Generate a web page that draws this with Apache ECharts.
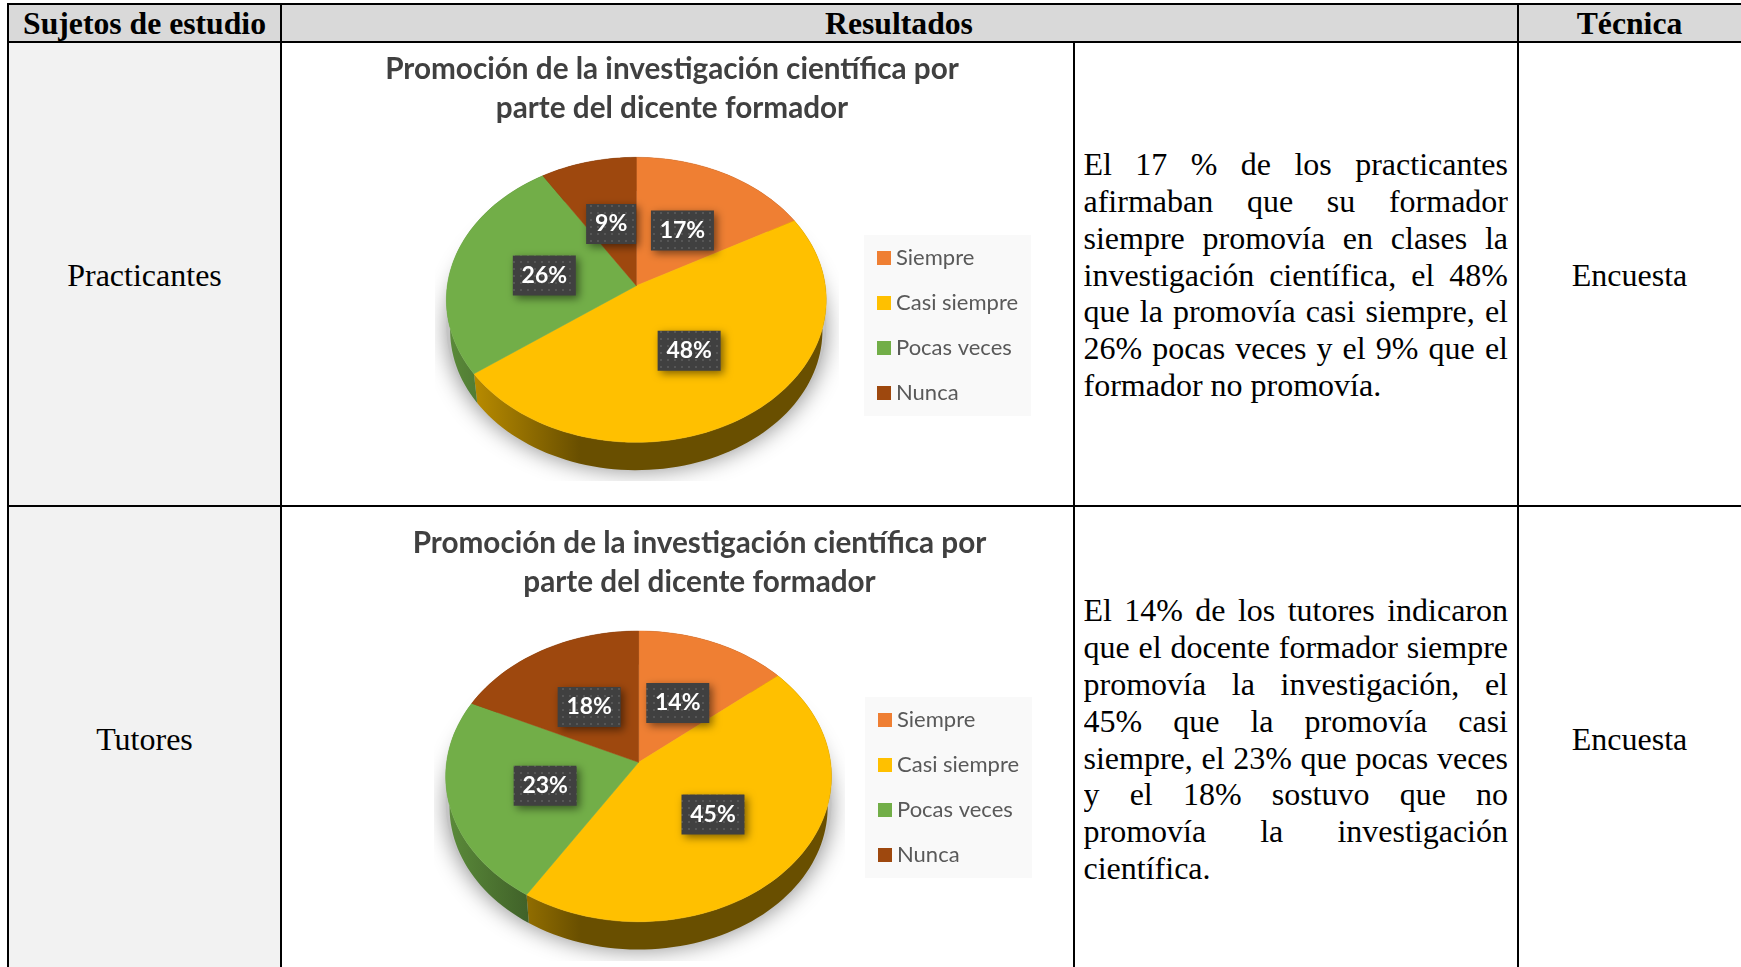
<!DOCTYPE html>
<html lang="es">
<head>
<meta charset="utf-8">
<title>Promoción de la investigación científica</title>
<script src="https://cdn.jsdelivr.net/npm/echarts@6/dist/echarts.min.js"></script>
<style>
html,body{margin:0;padding:0;background:#fff;overflow:hidden;width:1741px;height:967px}
#page{position:relative;width:1741px;height:967px;overflow:hidden;font-family:"Liberation Serif","Times New Roman",serif;color:#000}
.fill,.rule,.cell,.line{position:absolute}
.rule{background:#000}
.cell{transform:translate(-50%,-50%);white-space:nowrap;font-size:32px;line-height:36px}
.cell.head{font-weight:bold;font-size:31.7px}
.line{left:1083.5px;width:424.5px;font-size:32px;line-height:37px;height:37px;transform:translateY(-50%);text-align:justify;text-align-last:justify;overflow:hidden}
.line.last{text-align-last:left}
#chart{position:absolute;left:0;top:0;width:1741px;height:967px}
</style>
</head>
<body>
<div id="page"><div id="chart"></div></div>
<script>
// ---- chart data
const categories = ['Siempre', 'Casi siempre', 'Pocas veces', 'Nunca'];
const practicantes = [17, 48, 26, 9];
const tutores = [14, 45, 23, 18];
const chartTitle = 'Promoción de la investigación científica por';
const chartTitlePractica = 'parte del dicente formador';
const colors = ['#EF7F33', '#FFC000', '#72AE48', '#9E480E'];

// ---- table text, one entry per printed line
const headers = ['Sujetos de estudio', 'Resultados', 'Técnica'];
const subjects = ['Practicantes', 'Tutores'];
const technique = 'Encuesta';
const textPracticantes = [
  'El 17 % de los practicantes',
  'afirmaban que su formador',
  'siempre promovía en clases la',
  'investigación científica, el 48%',
  'que la promovía casi siempre, el',
  '26% pocas veces y el 9% que el',
  'formador no promovía.'
];
const textTutores = [
  'El 14% de los tutores indicaron',
  'que el docente formador siempre',
  'promovía la investigación, el',
  '45% que la promovía casi',
  'siempre, el 23% que pocas veces',
  'y el 18% sostuvo que no',
  'promovía la investigación',
  'científica.'
];

// ---- HTML table (frame and text)
const page = document.getElementById('page');
function box(cls, css, text) {
  const d = document.createElement('div');
  d.className = cls;
  Object.assign(d.style, css);
  if (text) d.textContent = text;
  page.insertBefore(d, document.getElementById('chart'));
  return d;
}
box('fill', {left:'8px', top:'4px', width:'1733px', height:'38px', background:'#D9D9D9'});
box('fill', {left:'8px', top:'42px', width:'273px', height:'925px', background:'#F2F2F2'});
[[3],[41],[505]].forEach(([y]) => box('rule', {left:'7px', top:y+'px', width:'1734px', height:'2px'}));
box('rule', {left:'7px', top:'3px', width:'2px', height:'964px'});
box('rule', {left:'280px', top:'3px', width:'2px', height:'964px'});
box('rule', {left:'1073px', top:'42px', width:'2px', height:'925px'});
box('rule', {left:'1517px', top:'3px', width:'2px', height:'964px'});
box('cell head', {left:'144.5px', top:'24px'}, headers[0]);
box('cell head', {left:'899px', top:'24px'}, headers[1]);
box('cell head', {left:'1629.5px', top:'24px'}, headers[2]);
box('cell', {left:'144.5px', top:'275px'}, subjects[0]);
box('cell', {left:'144.5px', top:'739px'}, subjects[1]);
box('cell', {left:'1629.5px', top:'275px'}, technique);
box('cell', {left:'1629.5px', top:'739px'}, technique);
textPracticantes.forEach((t, i) => box('line' + (i === textPracticantes.length - 1 ? ' last' : ''), {top:(164 + i * 36.85) + 'px'}, t));
textTutores.forEach((t, i) => box('line' + (i === textTutores.length - 1 ? ' last' : ''), {top:(610.3 + i * 36.8) + 'px'}, t));

// ---- pie geometry: a circle seen in perspective, with its centre at (cx, cy)
const FONT = 'Lato, "Open Sans", sans-serif';
const pie1 = {cx:636.3, cy:285.7, k:189, a:141.1, c:-0.099, depth:31, clipL:435, clipR:839, clipB:481};
const pie2 = {cx:638.6, cy:762.3, k:192, a:144, c:-0.0967, depth:31, clipL:434, clipR:845, clipB:961};

function project(g, frac, r, dy, s) {
  const th = frac * 2 * Math.PI;
  const x = r * Math.sin(th), y = -r * Math.cos(th);
  const d = 1 + g.c * y;
  return [g.cx + s * g.k * x / d, g.cy + dy + s * g.a * y / d];
}
function arc(g, f0, f1, dy, s) {
  const n = Math.max(2, Math.ceil((f1 - f0) * 180));
  const pts = [];
  for (let i = 0; i <= n; i++) pts.push(project(g, f0 + (f1 - f0) * i / n, 1, dy, s));
  return pts;
}
function shade(hex, f) {
  const v = parseInt(hex.slice(1), 16);
  return 'rgb(' + [(v >> 16) & 255, (v >> 8) & 255, v & 255].map(c => Math.round(c * f)).join(',') + ')';
}
// dotted fill of the value boxes
const dots = document.createElement('canvas');
dots.width = dots.height = 7;
(function () {
  const c = dots.getContext('2d');
  c.fillStyle = '#404040'; c.fillRect(0, 0, 7, 7);
  c.fillStyle = '#565656'; c.fillRect(2, 2, 2, 2);
})();

function sliceSeries(g, values, i) {
  const before = values.slice(0, i).reduce((a, b) => a + b, 0);
  const total = values.reduce((a, b) => a + b, 0);
  return {
    type: 'custom',
    name: categories[i],
    coordinateSystem: 'none',
    silent: true,
    animation: false,
    clip: false,
    data: [values[i]],
    itemStyle: {color: colors[i]},
    renderItem(params, api) {
      const v = api.value(0);
      const f0 = before / total, f1 = (before + v) / total, mid = (f0 + f1) / 2;
      const top = arc(g, f0, f1, 0, 1);
      const low = arc(g, f0, f1, g.depth, 0.98);
      const label = project(g, mid, 0.5, 3, 1);
      const text = v + '%';
      const w = 24 + 13 * text.length, h = 40;
      return {type: 'group', children: [
        {type: 'polygon', z2: 2, shape: {points: top.concat(low.reverse())},
          style: {fill: {type: 'linear', global: true, x: g.cx - g.k, y: 0, x2: g.cx - 0.3 * g.k, y2: 0,
            colorStops: [{offset: 0, color: shade(colors[i], 0.8)}, {offset: 1, color: shade(colors[i], 0.41)}]}}},
        {type: 'polygon', z2: 4, shape: {points: [[g.cx, g.cy]].concat(top)},
          style: {fill: colors[i], stroke: colors[i], lineWidth: 0.5}},
        {type: 'rect', z2: 6, shape: {x: label[0] - w / 2, y: label[1] - h / 2, width: w, height: h},
          style: {fill: {image: dots, repeat: 'repeat'}, shadowBlur: 8, shadowOffsetX: 3, shadowOffsetY: 3, shadowColor: 'rgba(0,0,0,0.5)'}},
        {type: 'text', z2: 7, style: {text, x: label[0], y: label[1], align: 'center', verticalAlign: 'middle',
          textAlign: 'center', textVerticalAlign: 'middle', fill: '#fff', fontSize: 23, fontWeight: 'bold', fontFamily: FONT}}
      ]};
    }
  };
}
function shadowSeries(g) {
  return {
    type: 'custom',
    coordinateSystem: 'none',
    silent: true,
    animation: false,
    clip: false,
    data: [1],
    renderItem() {
      const rim = arc(g, 0, 1, g.depth - 4, 1.0);
      return {type: 'group', children: [
        {type: 'polygon', z2: 0, shape: {points: rim},
          style: {fill: '#c4c4c4', shadowBlur: 22, shadowColor: 'rgba(0,0,0,0.42)', shadowOffsetY: 2}},
        {type: 'rect', z2: 1, shape: {x: g.clipL - 40, y: g.clipB, width: g.clipR - g.clipL + 80, height: 22},
          style: {fill: '#fff'}},
        {type: 'rect', z2: 1, shape: {x: g.clipL - 40, y: g.cy - 130, width: 40, height: g.clipB - g.cy + 130},
          style: {fill: '#fff'}},
        {type: 'rect', z2: 1, shape: {x: g.clipR, y: g.cy - 130, width: 24, height: g.clipB - g.cy + 130},
          style: {fill: '#fff'}}
      ]};
    }
  };
}
function legend(left, top) {
  return {
    left, top, orient: 'vertical',
    data: categories, selectedMode: false,
    icon: 'rect', itemWidth: 14, itemHeight: 14, itemGap: 23,
    padding: [12, 13, 12, 13],
    backgroundColor: '#F9F9F9',
    textStyle: {fontFamily: FONT, fontSize: 22, color: '#595959'}
  };
}
function title(x, y) {
  return {
    text: chartTitle + '\n' + chartTitlePractica,
    left: x, top: y, textAlign: 'center',
    textStyle: {fontFamily: FONT, fontSize: 29.7, fontWeight: 'bold', color: '#404040', lineHeight: 39}
  };
}
const chart = echarts.init(document.getElementById('chart'), null, {renderer: 'canvas'});
chart.setOption({
  backgroundColor: 'transparent',
  animation: false,
  color: colors,
  title: [title(667, 45), title(694.5, 519)],
  legend: [legend(864, 235), legend(865, 697)],
  series: [
    shadowSeries(pie1), shadowSeries(pie2),
    ...categories.map((_, i) => sliceSeries(pie1, practicantes, i)),
    ...categories.map((_, i) => sliceSeries(pie2, tutores, i))
  ]
});
</script>
</body>
</html>
